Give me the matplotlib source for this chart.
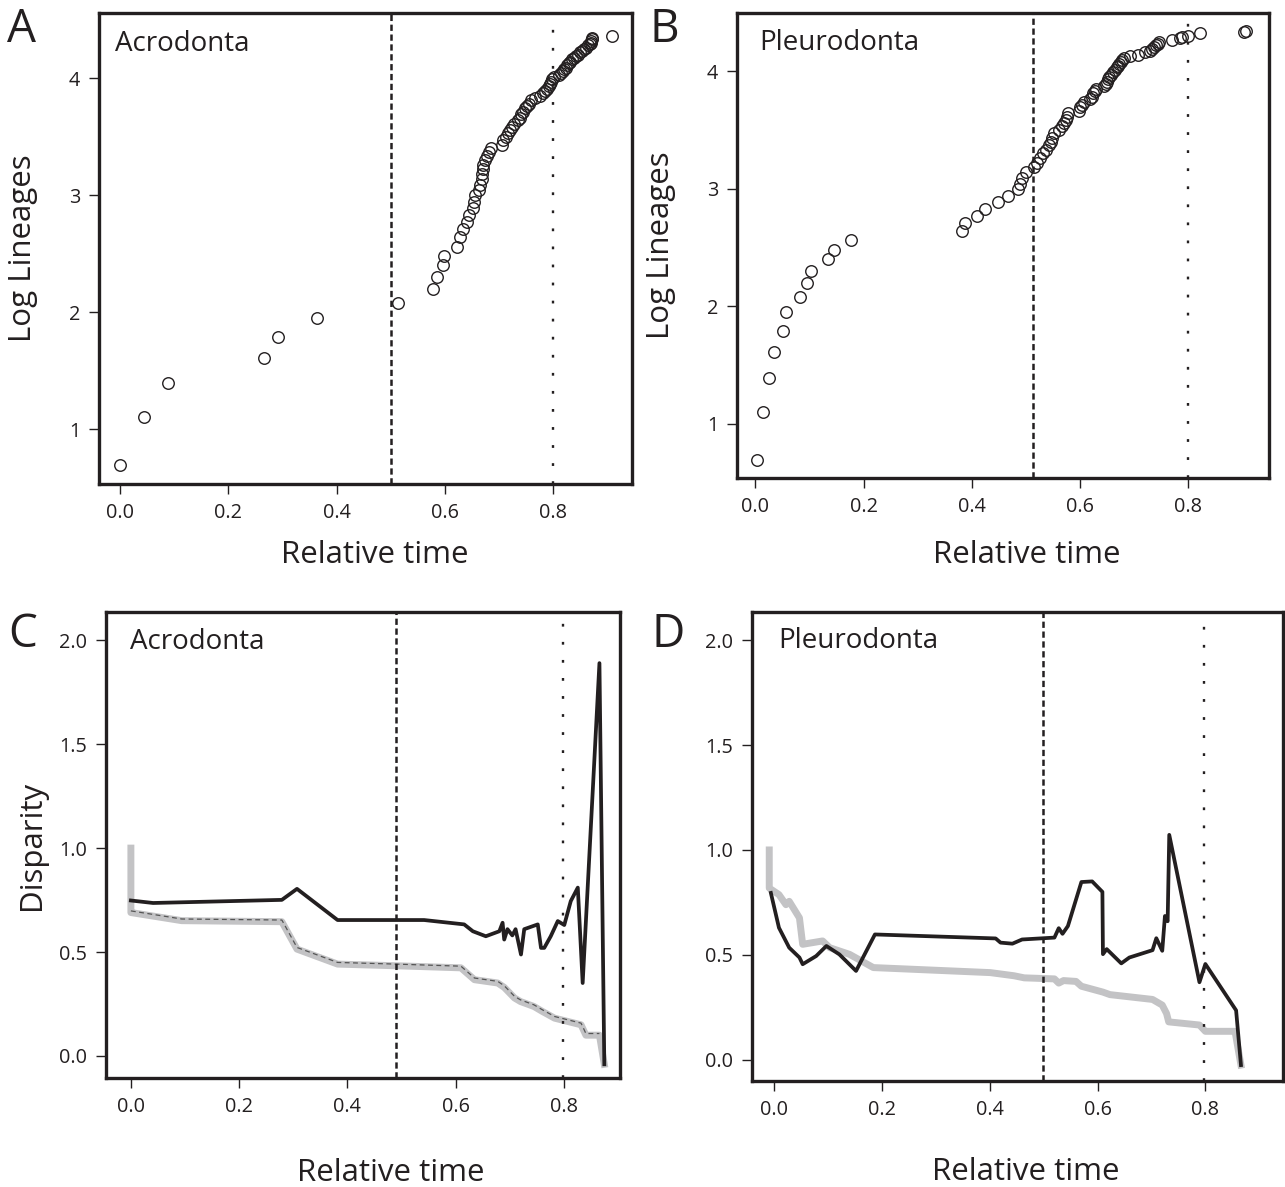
import numpy as np
import matplotlib
matplotlib.use("Agg")
import matplotlib.pyplot as plt

plt.rcParams['font.family'] = ['Open Sans', 'DejaVu Sans']
plt.rcParams['lines.scale_dashes'] = False

W, H = 1285, 1187
INK = '#231f20'
GREY = '#c3c3c5'

# ---------------- data ----------------
# Panel A: Acrodonta lineage-through-time (relative time, log lineages)
acro_t = [0.000, 0.044, 0.089, 0.266, 0.291, 0.364, 0.514, 0.579, 0.585, 0.597,
          0.598, 0.622, 0.628, 0.634, 0.641, 0.645, 0.652, 0.654, 0.655, 0.664,
          0.666, 0.668, 0.669, 0.670, 0.671, 0.675, 0.678, 0.682, 0.686, 0.705,
          0.708, 0.713, 0.716, 0.720, 0.724, 0.728, 0.735, 0.739, 0.741, 0.744,
          0.748, 0.752, 0.755, 0.760, 0.766, 0.776, 0.782, 0.786, 0.789, 0.792,
          0.795, 0.797, 0.799, 0.801, 0.811, 0.815, 0.818, 0.821, 0.824, 0.826,
          0.829, 0.832, 0.835, 0.838, 0.842, 0.846, 0.850, 0.853, 0.857, 0.861,
          0.865, 0.868, 0.870, 0.871, 0.872, 0.873, 0.909]
acro_logn = [0.69, 1.10, 1.39, 1.61, 1.79, 1.95, 2.08, 2.20, 2.30, 2.40,
             2.48, 2.56, 2.64, 2.71, 2.77, 2.83, 2.89, 2.94, 3.00, 3.04,
             3.09, 3.14, 3.18, 3.22, 3.26, 3.30, 3.33, 3.37, 3.40, 3.43,
             3.47, 3.50, 3.53, 3.56, 3.58, 3.61, 3.64, 3.66, 3.69, 3.71,
             3.74, 3.76, 3.78, 3.81, 3.83, 3.85, 3.87, 3.89, 3.91, 3.93,
             3.95, 3.97, 3.99, 4.01, 4.03, 4.04, 4.06, 4.08, 4.09, 4.11,
             4.13, 4.14, 4.16, 4.17, 4.19, 4.20, 4.22, 4.23, 4.25, 4.26,
             4.28, 4.29, 4.30, 4.32, 4.33, 4.34, 4.36]

# Panel B: Pleurodonta lineage-through-time
pleu_t = [0.003, 0.015, 0.026, 0.034, 0.051, 0.057, 0.082, 0.096, 0.102, 0.134,
          0.146, 0.177, 0.382, 0.388, 0.410, 0.425, 0.449, 0.467, 0.486, 0.490,
          0.493, 0.501, 0.515, 0.521, 0.526, 0.532, 0.538, 0.544, 0.547, 0.549,
          0.553, 0.562, 0.568, 0.571, 0.574, 0.576, 0.578, 0.598, 0.601, 0.604,
          0.607, 0.619, 0.622, 0.625, 0.628, 0.630, 0.645, 0.648, 0.650, 0.652,
          0.654, 0.658, 0.662, 0.666, 0.668, 0.670, 0.673, 0.676, 0.679, 0.682,
          0.692, 0.708, 0.720, 0.730, 0.734, 0.738, 0.741, 0.744, 0.747, 0.770,
          0.785, 0.790, 0.800, 0.822, 0.903, 0.908]
pleu_logn = [0.69, 1.10, 1.39, 1.61, 1.79, 1.95, 2.08, 2.20, 2.30, 2.40,
             2.48, 2.56, 2.64, 2.71, 2.77, 2.83, 2.89, 2.94, 3.00, 3.04,
             3.09, 3.14, 3.18, 3.22, 3.26, 3.30, 3.33, 3.37, 3.40, 3.43,
             3.47, 3.50, 3.53, 3.56, 3.58, 3.61, 3.64, 3.66, 3.69, 3.71,
             3.74, 3.76, 3.78, 3.81, 3.83, 3.85, 3.87, 3.89, 3.91, 3.93,
             3.95, 3.97, 3.99, 4.01, 4.03, 4.04, 4.06, 4.08, 4.09, 4.11,
             4.13, 4.14, 4.16, 4.17, 4.19, 4.20, 4.22, 4.23, 4.25, 4.26,
             4.28, 4.29, 4.30, 4.32, 4.33, 4.34]

# Panel C: Acrodonta disparity through time
acro_obs_t = [0.000, 0.041, 0.279, 0.307, 0.382, 0.542, 0.616, 0.632, 0.656, 0.681,
              0.687, 0.690, 0.696, 0.705, 0.711, 0.721, 0.727, 0.752, 0.758, 0.764,
              0.776, 0.789, 0.801, 0.813, 0.826, 0.835, 0.866, 0.875]
acro_obs_d = [0.748, 0.736, 0.751, 0.804, 0.654, 0.654, 0.633, 0.600, 0.576, 0.600,
              0.641, 0.560, 0.610, 0.580, 0.610, 0.488, 0.610, 0.633, 0.520, 0.520,
              0.576, 0.649, 0.630, 0.745, 0.810, 0.351, 1.890, -0.040]
acro_sim_t = [0.000, 0.000, 0.000, 0.094, 0.279, 0.307, 0.382, 0.490, 0.610, 0.635,
              0.678, 0.690, 0.709, 0.720, 0.745, 0.760, 0.783, 0.832, 0.841, 0.866,
              0.875]
acro_sim_d = [1.000, 0.707, 0.690, 0.651, 0.646, 0.514, 0.442, 0.434, 0.424, 0.367,
              0.351, 0.330, 0.279, 0.262, 0.238, 0.215, 0.182, 0.150, 0.100, 0.100,
              -0.040]
acro_med_t = [0.000, 0.094, 0.279, 0.307, 0.382, 0.490, 0.610, 0.635, 0.678, 0.690,
              0.709, 0.720, 0.745, 0.760, 0.783, 0.832, 0.841, 0.866]
acro_med_d = [0.698, 0.659, 0.654, 0.522, 0.450, 0.442, 0.432, 0.375, 0.359, 0.338,
              0.287, 0.270, 0.246, 0.223, 0.190, 0.158, 0.108, 0.108]

# Panel D: Pleurodonta disparity through time
pleu_obs_t = [-0.006, 0.009, 0.028, 0.047, 0.053, 0.078, 0.097, 0.121, 0.152, 0.187,
              0.411, 0.420, 0.442, 0.460, 0.520, 0.528, 0.535, 0.545, 0.570, 0.590,
              0.609, 0.610, 0.617, 0.644, 0.659, 0.702, 0.709, 0.720, 0.725, 0.730,
              0.733, 0.789, 0.800, 0.857, 0.866]
pleu_obs_d = [0.795, 0.629, 0.534, 0.487, 0.455, 0.494, 0.542, 0.502, 0.423, 0.597,
              0.578, 0.558, 0.553, 0.573, 0.582, 0.627, 0.600, 0.637, 0.847, 0.850,
              0.800, 0.503, 0.527, 0.459, 0.487, 0.522, 0.579, 0.519, 0.685, 0.660,
              1.072, 0.369, 0.456, 0.235, -0.026]
pleu_sim_t = [-0.009, -0.009, 0.009, 0.022, 0.028, 0.047, 0.053, 0.090, 0.103, 0.140,
              0.184, 0.401, 0.445, 0.464, 0.520, 0.528, 0.537, 0.560, 0.570, 0.610,
              0.623, 0.702, 0.720, 0.728, 0.732, 0.789, 0.800, 0.855, 0.866]
pleu_sim_d = [1.000, 0.818, 0.787, 0.739, 0.755, 0.676, 0.550, 0.566, 0.534, 0.502,
              0.439, 0.415, 0.400, 0.390, 0.385, 0.365, 0.377, 0.373, 0.350, 0.322,
              0.310, 0.287, 0.260, 0.220, 0.180, 0.165, 0.135, 0.135, -0.026]

lin_xticks = [0.0, 0.2, 0.4, 0.6, 0.8]
lin_yticks = [1, 2, 3, 4]
dtt_yticks = [0.0, 0.5, 1.0, 1.5, 2.0]

# ---------------- figure ----------------
fig = plt.figure(figsize=(W / 100, H / 100), dpi=100)


def add_ax(l, t, r, b):
    return fig.add_axes([l / W, 1 - b / H, (r - l) / W, (b - t) / H])


def style(ax):
    for s in ax.spines.values():
        s.set_linewidth(2.4)
        s.set_color(INK)
    ax.tick_params(direction='out', length=7.5, width=1.0, color=INK,
                   labelsize=14.3, labelcolor=INK, pad=6.0,
                   top=False, right=False)


DASH = (0, (4.5, 2.6))
DOT = (0, (2.0, 11.0))
LABEL_FS = 22.5
NAME_FS = 20

axA = add_ax(99, 13, 632, 484)
axB = add_ax(737, 13, 1269, 478)
axC = add_ax(106, 612, 620, 1078)
axD = add_ax(752, 612, 1283, 1081)

# Panel A
axA.plot(acro_t, acro_logn, linestyle='none', marker='o', markersize=8.3,
         markerfacecolor='none', markeredgecolor=INK, markeredgewidth=1.0)
axA.axvline(0.5, color=INK, lw=1.8, linestyle=DASH)
axA.axvline(0.8, color=INK, lw=1.7, linestyle=DOT)
axA.set_xlim(-0.039, 0.946)
axA.set_ylim(0.53, 4.556)

# Panel B
axB.plot(pleu_t, pleu_logn, linestyle='none', marker='o', markersize=8.3,
         markerfacecolor='none', markeredgecolor=INK, markeredgewidth=1.0)
axB.axvline(0.514, color=INK, lw=1.8, linestyle=DASH)
axB.axvline(0.8, color=INK, lw=1.7, linestyle=DOT)
axB.set_xlim(-0.034, 0.950)
axB.set_ylim(0.541, 4.493)

for ax in (axA, axB):
    ax.set_xticks(lin_xticks)
    ax.set_xticklabels([f"{v:.1f}" for v in lin_xticks])
    ax.set_yticks(lin_yticks)
    ax.set_yticklabels([str(v) for v in lin_yticks])
    style(ax)
    ax.set_ylabel('Log Lineages', fontsize=LABEL_FS, color=INK)
    ax.yaxis.set_label_coords(-0.143, 0.5)
    ax.yaxis.label.set_va('center')

# Panel C
axC.plot(acro_sim_t, acro_sim_d, color=GREY, lw=5.0)
axC.plot(acro_med_t, acro_med_d, color='#555555', lw=0.9, linestyle=(0, (3.5, 2.5)))
axC.plot(acro_obs_t, acro_obs_d, color=INK, lw=2.7)
axC.axvline(0.49, color=INK, lw=1.8, linestyle=DASH)
axC.axvline(0.799, color=INK, lw=1.7, linestyle=DOT)
axC.set_xlim(-0.046, 0.904)
axC.set_ylim(-0.106, 2.136)

# Panel D
axD.plot(pleu_sim_t, pleu_sim_d, color=GREY, lw=5.0)
axD.plot(pleu_obs_t, pleu_obs_d, color=INK, lw=2.7)
axD.axvline(0.499, color=INK, lw=1.8, linestyle=DASH)
axD.axvline(0.798, color=INK, lw=1.7, linestyle=DOT)
axD.set_xlim(-0.041, 0.944)
axD.set_ylim(-0.102, 2.135)

for ax in (axC, axD):
    ax.set_xticks(lin_xticks)
    ax.set_xticklabels([f"{v:.1f}" for v in lin_xticks])
    ax.set_yticks(dtt_yticks)
    ax.set_yticklabels([f"{v:.1f}" for v in dtt_yticks])
    style(ax)

axC.set_ylabel('Disparity', fontsize=LABEL_FS, color=INK)
axC.yaxis.set_label_coords(-0.144, 0.5)
axC.yaxis.label.set_va('center')

# x labels (positions per panel)
for cx, cy in ((375, 555), (1027, 555), (391, 1173), (1026, 1172)):
    fig.text(cx / W, 1 - cy / H, 'Relative time', fontsize=LABEL_FS, color=INK,
             ha='center', va='center')

# in-panel group names
fig.text(115 / W, 1 - 44 / H, 'Acrodonta', fontsize=NAME_FS, color=INK, ha='left', va='center')
fig.text(759 / W, 1 - 43 / H, 'Pleurodonta', fontsize=NAME_FS, color=INK, ha='left', va='center')
fig.text(130 / W, 1 - 642 / H, 'Acrodonta', fontsize=NAME_FS, color=INK, ha='left', va='center')
fig.text(778 / W, 1 - 641 / H, 'Pleurodonta', fontsize=NAME_FS, color=INK, ha='left', va='center')

# panel letters
for letter, x, y in (('A', 7, 30), ('B', 649, 30), ('C', 8, 635), ('D', 651, 635)):
    fig.text(x / W, 1 - y / H, letter, fontsize=33, color=INK, ha='left', va='center')

fig.savefig('out.png', dpi=100)
